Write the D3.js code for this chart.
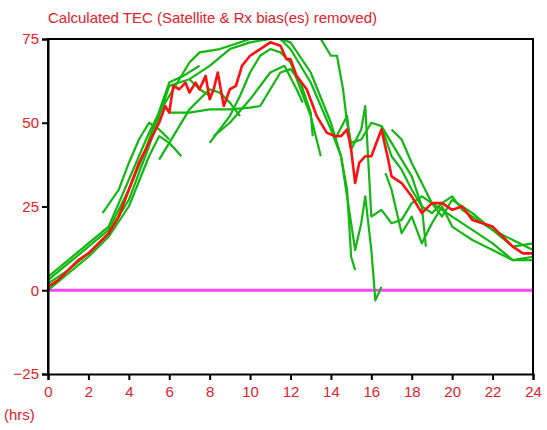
<!DOCTYPE html>
<html><head><meta charset="utf-8">
<script src="https://cdn.jsdelivr.net/npm/d3@7"></script>
<style>body{margin:0;background:#fff}text{font-family:"Liberation Sans",Arial,sans-serif}</style>
</head><body>
<svg width="547" height="430"></svg>
<script>
const svg = d3.select("svg");

const xTicks = d3.range(0, 25, 2);
const yTicks = [-25, 0, 25, 50, 75];

// mean TEC (red)
const meanTec = [[0,1],[0.5,3],[1,6],[1.5,9],[2,11],[2.5,14],[3,17],[3.5,22],[4,30],[4.5,38],[5,44],[5.5,50],[5.8,55],[6,53],[6.1,57],[6.2,61],[6.5,60],[6.8,62],[7,59],[7.3,62],[7.5,60],[7.8,64],[8,57],[8.2,60],[8.4,65],[8.7,55],[9,60],[9.3,61],[9.6,67],[10,70],[10.5,72],[11,74],[11.5,73],[11.8,69],[12,69],[12.3,64],[12.8,60],[13.3,52],[13.8,47],[14.2,46],[14.5,46],[14.8,48],[15,42],[15.2,32],[15.4,38],[15.7,40],[16,40],[16.5,48],[16.8,40],[17,34],[17.5,32],[18,28],[18.5,23],[19,26],[19.5,26],[20,24],[20.5,25],[21,21],[21.5,20],[22,19],[22.5,16],[23,13],[23.5,11],[24,11]];

// satellite arcs (green)
const arcs = [
  [[0,2],[1,6],[2,11],[3,17],[4,27],[5,43],[5.5,52],[6,61],[6.5,62],[7,63],[7.5,60],[8,58]],
  [[0,4],[1,9],[2,14],[3,19],[4,33],[5,47],[5.5,53],[6,58],[7,68],[7.5,71],[8.5,72],[9,73],[10,75]],
  [[0,0],[1,5],[2,10],[3,16],[4,25],[5,40],[5.5,46],[6,44],[6.6,40]],
  [[2.7,23],[3.5,30],[4,38],[4.5,45],[5,50],[5.5,48],[6,45]],
  [[0,3],[1,8],[2,13],[3,18],[4,30],[4.7,40],[5.3,50],[6,62],[6.7,64],[7.5,67]],
  [[5.5,39],[6,44],[6.5,49],[7,54],[7.5,57],[8,60],[8.5,59],[9,56],[9.5,52]],
  [[6,53],[7,53],[8,54],[9,54],[10,54.5],[10.5,55],[11,60],[11.5,65],[12,66],[12.5,62],[13,53],[13.1,46]],
  [[8,44],[8.5,48],[9,52],[9.5,58],[10,65],[10.5,70],[11,72],[11.5,71],[12,68],[12.5,60],[13,52],[13.5,40]],
  [[8.2,46],[9,50],[10,57],[11,65],[11.7,67],[12.3,60],[12.6,56]],
  [[7,63],[8,67],[9,72],[10,74],[11,75],[11.5,75],[12,72],[13,62],[14,48],[14.5,40],[15,20],[15.2,12],[15.5,20],[15.7,28],[16,12],[16.2,-3],[16.5,1]],
  [[11.5,75],[12,74],[13,65],[14,50],[14.5,40],[14.8,30],[15,10],[15.2,6]],
  [[13.5,75],[14,70],[14.3,70],[14.6,60],[14.8,50],[15,44],[15.5,45],[16,50],[16.5,49],[17,40],[17.5,36],[18,30],[18.5,25],[19,23],[19.5,26],[20,28],[20.5,24],[21,22],[22,18],[23,15],[24,12]],
  [[14.2,45],[14.8,52],[15,42],[15.5,48],[15.7,55],[16,22],[16.5,24],[17,20],[17.5,21],[18,26],[18.5,28],[19,26],[20,22],[21,18],[22,14],[23,9],[24,9]],
  [[16.5,49],[17,44],[17.5,39],[18,34],[18.5,25],[18.7,13]],
  [[17,48],[17.5,45],[18,38],[19,26],[19.5,22],[20,27],[20.5,25],[21,23],[22,18],[23,13],[24,14]],
  [[16.7,35],[17,30],[17.5,17],[18,22],[18.5,14],[19,20],[19.5,25],[20,19],[20.5,17],[21,15],[22,12],[23,9],[24,10]]
];

const x = d3.scaleLinear().domain([0, 24]).range([48, 533]);
const y = d3.scaleLinear().domain([-25, 75]).range([374, 39]);
const red = "#e8202a";

const g = svg.append("g");
g.append("clipPath").attr("id", "clip").append("rect")
  .attr("x", 48).attr("y", 39).attr("width", 485).attr("height", 335);

const line = d3.line().x(d => x(d[0])).y(d => y(d[1]));
const plot = g.append("g").attr("clip-path", "url(#clip)");

plot.append("line").attr("x1", x(0)).attr("x2", x(24)).attr("y1", y(0)).attr("y2", y(0))
  .attr("stroke", "#ff44ff").attr("stroke-width", 3);

plot.selectAll("path.arc").data(arcs).enter().append("path")
  .attr("class", "arc").attr("d", line).attr("fill", "none")
  .attr("stroke", "#10b810").attr("stroke-width", 2.2).attr("stroke-linejoin", "round");

plot.append("path").datum(meanTec).attr("d", line).attr("fill", "none")
  .attr("stroke", "#ff1010").attr("stroke-width", 2.6).attr("stroke-linejoin", "round");

// frame
g.append("path").attr("d", `M${x(0)},${y(-25)}V${y(75)}H${x(24)}V${y(-25)}`)
  .attr("fill", "none").attr("stroke", "#000").attr("stroke-width", 2);

const xAxis = g.append("g").attr("transform", `translate(0,${y(-25)})`)
  .call(d3.axisBottom(x).tickValues(xTicks).tickSize(6).tickFormat(d3.format("d")));
const yAxis = g.append("g").attr("transform", `translate(${x(0)},0)`)
  .call(d3.axisLeft(y).tickValues(yTicks).tickSize(6).tickFormat(d3.format("d")));
[xAxis, yAxis].forEach(a => {
  a.select(".domain").attr("stroke", "#000").attr("stroke-width", 2);
  a.selectAll(".tick line").attr("stroke", "#000").attr("stroke-width", 2);
  a.selectAll(".tick text").attr("fill", red).style("font-size", "15px");
});
xAxis.selectAll(".tick text").attr("dy", "0.9em");

svg.append("text").attr("x", 48).attr("y", 23).attr("fill", red)
  .style("font-size", "15px").text("Calculated TEC (Satellite & Rx bias(es) removed)");
svg.append("text").attr("x", 4).attr("y", 420).attr("fill", red)
  .style("font-size", "15px").text("(hrs)");
</script>
</body></html>
